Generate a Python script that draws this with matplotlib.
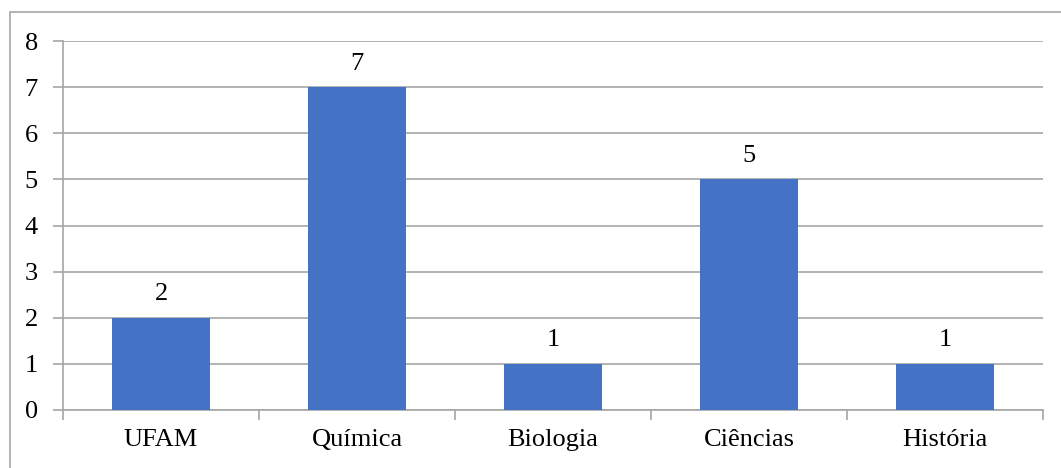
import matplotlib.pyplot as plt
from matplotlib.patches import Rectangle

categories = ["UFAM", "Química", "Biologia", "Ciências", "História"]
values = [2, 7, 1, 5, 1]
yticks = [0, 1, 2, 3, 4, 5, 6, 7, 8]

plt.rcParams['font.family'] = ['Liberation Serif', 'DejaVu Serif']

fig = plt.figure(figsize=(10.61, 4.68), dpi=100)
ax = fig.add_axes([63 / 1061, 1 - 410 / 468, 980 / 1061, 369 / 468])

grey = '#a6a6a6'
x = range(len(categories))
bars = ax.bar(x, values, width=0.5, color='#4472C4', zorder=3)
for b, v in zip(bars, values):
    ax.annotate(str(v), (b.get_x() + b.get_width() / 2, v), xytext=(0, 9),
                textcoords='offset points', ha='center', va='bottom', fontsize=19)

ax.set_xlim(-0.5, len(categories) - 0.5)
ax.set_ylim(0, 8)
ax.set_yticks(yticks)
ax.yaxis.grid(True, color=grey, linewidth=1.2, zorder=0)

# category labels sit between boundary ticks
ax.set_xticks([i - 0.5 for i in range(len(categories) + 1)])
ax.set_xticklabels([])
ax.set_xticks(list(x), minor=True)
ax.set_xticklabels(categories, minor=True, fontsize=19)
ax.tick_params(axis='x', which='minor', length=0, pad=14)
ax.tick_params(axis='x', which='major', length=7, color=grey, width=1.2)
ax.tick_params(axis='y', length=7, color=grey, width=1.2, labelsize=19, pad=11)

for s in ['top', 'right']:
    ax.spines[s].set_visible(False)
for s in ['left', 'bottom']:
    ax.spines[s].set_color(grey)
    ax.spines[s].set_linewidth(1.2)

# chart area frame
fig.add_artist(Rectangle((10 / 1061, -0.1), 1.2, (456 / 468) + 0.1,
                         transform=fig.transFigure, fill=False,
                         edgecolor=grey, linewidth=1.2))

fig.savefig('out.png', dpi=100)
